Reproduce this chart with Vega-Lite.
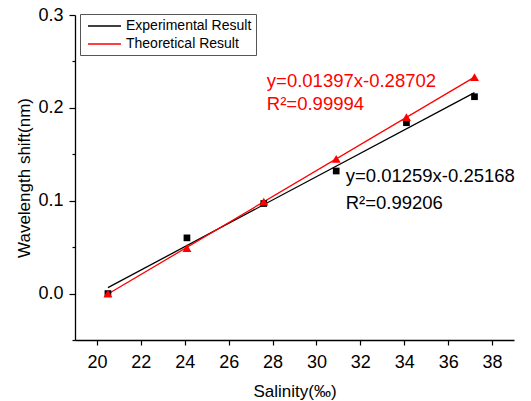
{
  "$schema": "https://vega.github.io/schema/vega-lite/v6.json",
  "width": 439,
  "height": 325,
  "autosize": {"type": "none"},
  "padding": {"left": 75, "top": 15, "right": 17, "bottom": 61},
  "background": "white",
  "config": {
    "view": {"stroke": null},
    "font": "Liberation Sans",
    "axis": {
      "grid": false,
      "domainColor": "#000000",
      "domainWidth": 1.3,
      "tickColor": "#000000",
      "tickWidth": 1.2,
      "labelColor": "#000000",
      "labelFont": "Liberation Sans",
      "labelFontSize": 18,
      "titleFont": "Liberation Sans",
      "titleFontSize": 17,
      "titleFontWeight": "normal",
      "titleColor": "#000000"
    },
    "legend": {
      "orient": "none",
      "legendX": 5,
      "legendY": -1,
      "strokeColor": "#555555",
      "padding": 4,
      "symbolType": "M-0.57,0H4.14",
      "symbolSize": 196,
      "symbolStrokeWidth": 1.5,
      "labelFont": "Liberation Sans",
      "labelFontSize": 14,
      "labelColor": "#000000",
      "labelOffset": 26,
      "rowPadding": 3
    }
  },
  "data": {
    "values": [
      {"series": "Experimental Result", "salinity": 20.5, "shift": 0.0},
      {"series": "Experimental Result", "salinity": 24.1, "shift": 0.060},
      {"series": "Experimental Result", "salinity": 27.6, "shift": 0.097},
      {"series": "Experimental Result", "salinity": 30.9, "shift": 0.132},
      {"series": "Experimental Result", "salinity": 34.1, "shift": 0.184},
      {"series": "Experimental Result", "salinity": 37.2, "shift": 0.212},
      {"series": "Theoretical Result", "salinity": 20.5, "shift": 0.0},
      {"series": "Theoretical Result", "salinity": 24.1, "shift": 0.049},
      {"series": "Theoretical Result", "salinity": 27.6, "shift": 0.099},
      {"series": "Theoretical Result", "salinity": 30.9, "shift": 0.145},
      {"series": "Theoretical Result", "salinity": 34.1, "shift": 0.190},
      {"series": "Theoretical Result", "salinity": 37.2, "shift": 0.233}
    ]
  },
  "layer": [
    {
      "transform": [
        {"regression": "shift", "on": "salinity", "groupby": ["series"], "extent": [20.5, 37.2]}
      ],
      "mark": {"type": "line", "strokeWidth": 1.3},
      "encoding": {
        "x": {
          "field": "salinity",
          "type": "quantitative",
          "scale": {"domain": [19, 39], "nice": false, "zero": false},
          "axis": {
            "title": "Salinity(‰)",
            "values": [20, 22, 24, 26, 28, 30, 32, 34, 36, 38],
            "labelOverlap": false,
            "tickSize": 5,
            "labelPadding": 8,
            "titlePadding": 12
          }
        },
        "y": {
          "field": "shift",
          "type": "quantitative",
          "scale": {"domain": [-0.05, 0.3], "nice": false, "zero": false},
          "axis": {
            "title": "Wavelength shift(nm)",
            "values": [-0.05, 0, 0.05, 0.1, 0.15, 0.2, 0.25, 0.3],
            "format": ".1f",
            "labelExpr": "round(datum.value * 100) % 10 === 0 ? datum.label : ''",
            "labelOverlap": false,
            "tickSize": {"condition": {"test": "round(datum.value * 100) % 10 === 0", "value": 6}, "value": 3},
            "labelPadding": 6,
            "titlePadding": 4
          }
        },
        "color": {
          "field": "series",
          "type": "nominal",
          "scale": {"domain": ["Experimental Result", "Theoretical Result"], "range": ["#000000", "#ff0000"]},
          "legend": {"title": null}
        }
      }
    },
    {
      "transform": [{"filter": "datum.series === 'Experimental Result'"}],
      "mark": {"type": "point", "filled": true, "opacity": 1, "shape": "square", "size": 45, "color": "#000000"},
      "encoding": {
        "x": {"field": "salinity", "type": "quantitative"},
        "y": {"field": "shift", "type": "quantitative"}
      }
    },
    {
      "transform": [{"filter": "datum.series === 'Theoretical Result'"}],
      "mark": {"type": "point", "filled": true, "opacity": 1, "shape": "triangle-up", "size": 80, "color": "#ff0000"},
      "encoding": {
        "x": {"field": "salinity", "type": "quantitative"},
        "y": {"field": "shift", "type": "quantitative"}
      }
    },
    {
      "data": {"values": [{"t": "y=0.01397x-0.28702"}]},
      "mark": {"type": "text", "align": "left", "baseline": "alphabetic", "fontSize": 18.5, "color": "#ff0000", "font": "Liberation Sans"},
      "encoding": {"x": {"datum": 27.74}, "y": {"datum": 0.2226}, "text": {"field": "t"}}
    },
    {
      "data": {"values": [{"t": "R²=0.99994"}]},
      "mark": {"type": "text", "align": "left", "baseline": "alphabetic", "fontSize": 18.5, "color": "#ff0000", "font": "Liberation Sans"},
      "encoding": {"x": {"datum": 27.74}, "y": {"datum": 0.1975}, "text": {"field": "t"}}
    },
    {
      "data": {"values": [{"t": "y=0.01259x-0.25168"}]},
      "mark": {"type": "text", "align": "left", "baseline": "alphabetic", "fontSize": 18.5, "color": "#000000", "font": "Liberation Sans"},
      "encoding": {"x": {"datum": 31.33}, "y": {"datum": 0.1203}, "text": {"field": "t"}}
    },
    {
      "data": {"values": [{"t": "R²=0.99206"}]},
      "mark": {"type": "text", "align": "left", "baseline": "alphabetic", "fontSize": 18.5, "color": "#000000", "font": "Liberation Sans"},
      "encoding": {"x": {"datum": 31.33}, "y": {"datum": 0.0916}, "text": {"field": "t"}}
    }
  ]
}
